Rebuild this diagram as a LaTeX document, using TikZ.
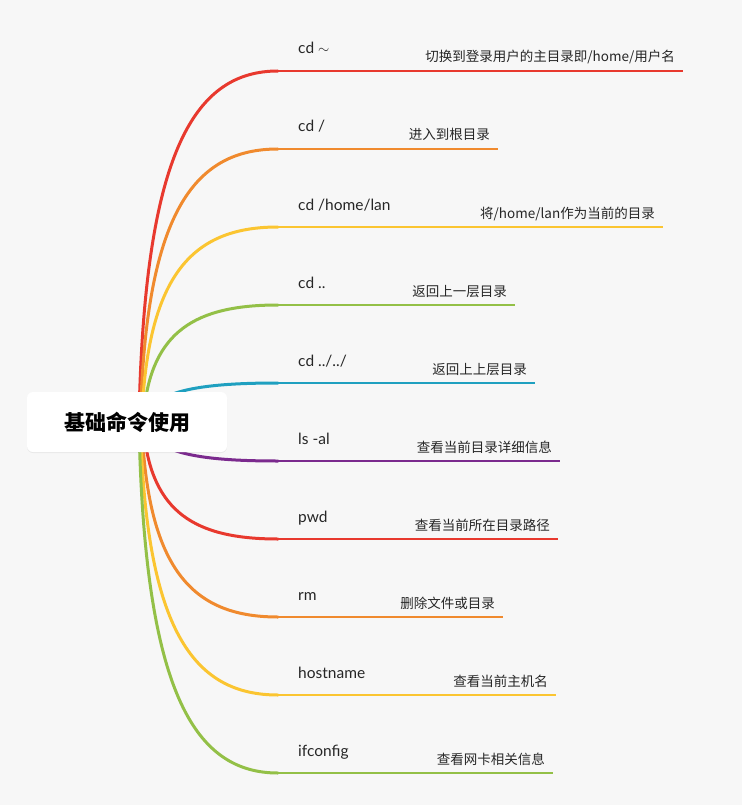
\documentclass[tikz,border=0pt]{standalone}
\usepackage{fontspec}
\setmainfont{Lato}
\newfontfamily\cjk{Noto Sans CJK SC}
\usetikzlibrary{shadows}
\definecolor{cR}{HTML}{E8392E}
\definecolor{cO}{HTML}{F08A2E}
\definecolor{cY}{HTML}{FBC531}
\definecolor{cG}{HTML}{93C047}
\definecolor{cT}{HTML}{1FA0C0}
\definecolor{cP}{HTML}{7B2A8E}
\definecolor{bg}{HTML}{F7F7F7}
\tikzset{
  cmd/.style={anchor=base west,font=\fontsize{15.5}{18}\selectfont,text=black!85,inner sep=0pt},
  desc/.style={anchor=base east,font=\cjk\fontsize{13.5}{16}\selectfont,text=black!85,inner sep=0pt},
  br/.style={line width=3pt,line cap=round},
  ul/.style={line width=1.5pt},
  root/.style={fill=white,rounded corners=6pt,minimum width=200pt,minimum height=60pt,font=\cjk\bfseries\fontsize{21}{24}\selectfont,drop shadow={opacity=0.12,shadow xshift=0pt,shadow yshift=-1pt}}
}
\begin{document}
\begin{tikzpicture}[x=1pt,y=-1pt]
\fill[bg] (0,0) rectangle (742,805);
\useasboundingbox (0,0) rectangle (742,805);
\foreach \i/\y/\e/\c/\cm/\d in {
 1/71/683/cR/{cd $\sim$}/{切换到登录用户的主目录即/home/用户名},
 2/149/498/cO/{cd /}/{进入到根目录},
 3/227/663/cY/{cd /home/lan}/{将/home/lan作为当前的目录},
 4/305/515/cG/{cd ..}/{返回上一层目录},
 5/383/535/cT/{cd ../../}/{返回上上层目录},
 6/461/560/cP/{ls -al}/{查看当前目录详细信息},
 7/539/558/cR/{pwd}/{查看当前所在目录路径},
 8/617/503/cO/{rm}/{删除文件或目录},
 9/695/556/cY/{hostname}/{查看当前主机名},
 10/773/553/cG/{ifconfig}/{查看网卡相关信息}}{
  \pgfmathsetmacro{\sy}{392+(\i-1)*6.6}
  \pgfmathsetmacro{\sx}{140+abs(\i-5.5)*-1.4+6}
  \coordinate (s\i) at (\sx,\sy);
  \coordinate (a\i) at (278,\y);
  \coordinate (b\i) at (\e,\y);
  \draw[br,\c] (s\i) .. controls (\sx+8,{\y+(\sy-\y)*0.25}) and (195,\y) .. (a\i);
  \draw[ul,\c] (a\i) -- (b\i);
  \node[cmd] (c\i) at (298,\y-17) {\cm};
  \node[desc] (d\i) at (\e-8,\y-9) {\d};
}
\node[root] (r) at (127,422) {基础命令使用};
\end{tikzpicture}
\end{document}
